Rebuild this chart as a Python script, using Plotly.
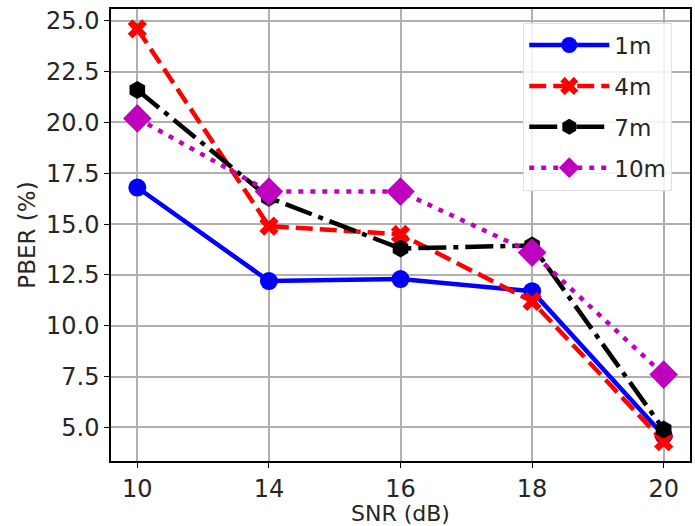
import plotly.graph_objects as go

# SNR levels (dB) on a categorical x axis
snr = ["10", "14", "16", "18", "20"]

# PBER (%) per distance
pber_1m = [16.8, 12.2, 12.3, 11.7, 4.6]
pber_4m = [24.6, 14.9, 14.5, 11.2, 4.3]
pber_7m = [21.6, 16.3, 13.8, 13.95, 4.9]
pber_10m = [20.2, 16.6, 16.6, 13.6, 7.6]

y_ticks = [5.0, 7.5, 10.0, 12.5, 15.0, 17.5, 20.0, 22.5, 25.0]

series = [
    ("1m", pber_1m, "#0000ff", "solid", "circle", 18),
    ("4m", pber_4m, "#ff0000", "17px,7px", "x", 17),
    ("7m", pber_7m, "#000000", "28px,7px,5px,7px", "hexagon", 18),
    ("10m", pber_10m, "#bf00bf", "5px,7px", "diamond", 22),
]

FONT = "DejaVu Sans"
TEXT = "#262626"

fig = go.Figure()
for name, vals, color, dash, symbol, msize in series:
    fig.add_trace(go.Scatter(
        x=snr, y=vals, name=name, legendgroup=name, mode="lines+markers",
        line=dict(color=color, width=4.5, dash=dash),
        marker=dict(symbol=symbol, size=msize, color=color, line=dict(width=0)),
    ))

axis_common = dict(
    showline=True, linecolor="#000000", linewidth=1.5, mirror=True,
    showgrid=True, gridcolor="#b0b0b0", gridwidth=1.5,
    ticks="outside", ticklen=5, tickwidth=1.2, tickcolor="#000000",
    tickfont=dict(family=FONT, size=24, color=TEXT),
    zeroline=False,
)

fig.update_xaxes(
    type="category", range=[-0.2, 4.2],
    title=dict(text="SNR (dB)", font=dict(family=FONT, size=22, color=TEXT), standoff=5),
    **axis_common,
)
fig.update_yaxes(
    range=[3.35, 25.58], tickvals=y_ticks, ticktext=[f"{v:.1f}" for v in y_ticks],
    title=dict(text="PBER (%)", font=dict(family=FONT, size=23, color=TEXT), standoff=4),
    **axis_common,
)

fig.update_layout(
    width=695, height=526,
    margin=dict(l=111, r=3, t=9, b=60),
    paper_bgcolor="white", plot_bgcolor="white",
    legend=dict(
        x=0.712, y=0.97, xanchor="left", yanchor="top",
        bgcolor="rgba(255,255,255,0.85)", bordercolor="#e0e0e0", borderwidth=1,
        font=dict(family=FONT, size=23, color=TEXT),
        itemwidth=80, tracegroupgap=8,
    ),
    showlegend=True,
)

fig.write_html("out.html")
